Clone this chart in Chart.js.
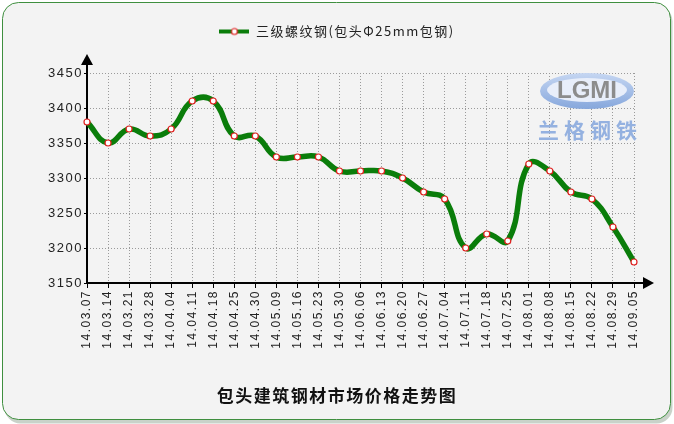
<!DOCTYPE html>
<html>
<head>
<meta charset="utf-8">
<script src="https://cdn.jsdelivr.net/npm/chart.js@4"></script>
<style>
  html, body { margin: 0; padding: 0; background: #fff; }
  canvas { display: block; }
</style>
</head>
<body>
<canvas id="grafico" width="674" height="424"></canvas>
<script>
// dados
const categorias = ['14.03.07', '14.03.14', '14.03.21', '14.03.28', '14.04.04', '14.04.11', '14.04.18',
  '14.04.25', '14.04.30', '14.05.09', '14.05.16', '14.05.23', '14.05.30', '14.06.06', '14.06.13',
  '14.06.20', '14.06.27', '14.07.04', '14.07.11', '14.07.18', '14.07.25', '14.08.01', '14.08.08',
  '14.08.15', '14.08.22', '14.08.29', '14.09.05'];
const precos = [3380, 3350, 3370, 3360, 3370, 3410, 3410, 3360, 3360, 3330, 3330, 3330, 3310, 3310,
  3310, 3300, 3280, 3270, 3200, 3220, 3210, 3320, 3310, 3280, 3270, 3230, 3180];
const yMin = 3150;
const yMax = 3450;
const yPasso = 50;
const nomeSerie = '三级螺纹钢(包头Φ25mm包钢)';
const titulo = '包头建筑钢材市场价格走势图';

const verde = '#0a7d0a';

// ícone da legenda: linha com bolinha no meio
const icone = document.createElement('canvas');
icone.width = 30; icone.height = 12;
(function () {
  const c = icone.getContext('2d');
  c.strokeStyle = verde; c.lineWidth = 4;
  c.beginPath(); c.moveTo(0, 6); c.lineTo(30, 6); c.stroke();
  c.fillStyle = '#fff'; c.strokeStyle = '#e02020'; c.lineWidth = 1.2;
  c.beginPath(); c.arc(15, 6, 3, 0, Math.PI * 2); c.fill(); c.stroke();
})();

// fundo, moldura, eixos com setas e logotipo
const decoracao = {
  id: 'decoracao',
  beforeLayout(chart) { chart.ctx.letterSpacing = '1.5px'; },
  beforeDraw(chart) {
    const ctx = chart.ctx;
    ctx.save();
    ctx.letterSpacing = '0px';
    ctx.fillStyle = '#fff';
    ctx.fillRect(0, 0, chart.width, chart.height);
    ctx.fillStyle = '#c9d2c9';
    ctx.beginPath(); ctx.roundRect(4.5, 5.5, 668, 418, 16); ctx.fill();
    ctx.fillStyle = '#f3f3f3';
    ctx.strokeStyle = '#3f8f3f';
    ctx.lineWidth = 1;
    ctx.beginPath(); ctx.roundRect(2.5, 2.5, 668, 417, 16); ctx.fill(); ctx.stroke();
    ctx.restore();
    ctx.letterSpacing = '1.5px';
  },
  beforeDatasetsDraw(chart) {
    const ctx = chart.ctx;
    const {left, bottom, top, right} = chart.chartArea;
    ctx.save();
    ctx.letterSpacing = '0px';
    // eixos
    ctx.strokeStyle = '#000'; ctx.fillStyle = '#000'; ctx.lineWidth = 2;
    ctx.beginPath();
    ctx.moveTo(left, bottom); ctx.lineTo(left, top - 10);
    ctx.moveTo(left, bottom); ctx.lineTo(right + 10, bottom);
    ctx.stroke();
    ctx.beginPath();
    ctx.moveTo(left, top - 19); ctx.lineTo(left - 6, top - 8); ctx.lineTo(left + 6, top - 8); ctx.closePath(); ctx.fill();
    ctx.beginPath();
    ctx.moveTo(right + 20, bottom); ctx.lineTo(right + 9, bottom - 6); ctx.lineTo(right + 9, bottom + 6); ctx.closePath(); ctx.fill();
    // logotipo
    const cx = 587, cy = 91;
    const grad = ctx.createLinearGradient(0, cy - 18, 0, cy + 18);
    grad.addColorStop(0, '#c5d6f2'); grad.addColorStop(1, '#86a7dc');
    ctx.fillStyle = grad;
    ctx.beginPath(); ctx.ellipse(cx, cy, 47, 18, 0, 0, Math.PI * 2); ctx.fill();
    ctx.fillStyle = '#e8eefa';
    ctx.beginPath(); ctx.ellipse(cx, cy - 1, 40, 12, 0, 0, Math.PI * 2); ctx.fill();
    ctx.font = 'bold 24px "Liberation Sans", Arial, sans-serif';
    ctx.textAlign = 'center'; ctx.textBaseline = 'middle';
    ctx.fillStyle = '#8c8c8c';
    ctx.fillText('LGMI', cx, cy);
    ctx.font = 'bold 21px "Noto Sans CJK SC", sans-serif';
    ctx.letterSpacing = '5px';
    ctx.fillStyle = '#94b1e0';
    ctx.fillText('兰格钢铁', cx + 3, 130);
    ctx.restore();
    ctx.letterSpacing = '1.5px';
  }
};

const ctxGrafico = document.getElementById('grafico').getContext('2d');
new Chart(ctxGrafico, {
  type: 'line',
  data: {
    labels: categorias,
    datasets: [{
      label: nomeSerie,
      data: precos,
      borderColor: verde,
      backgroundColor: verde,
      borderWidth: 5.5,
      tension: 0.45,
      pointRadius: 3,
      pointBackgroundColor: '#fff',
      pointBorderColor: '#e02020',
      pointBorderWidth: 1.2,
      pointStyle: 'circle',
      clip: false
    }]
  },
  options: {
    responsive: false,
    animation: false,
    devicePixelRatio: 1,
    layout: { padding: { top: 15, left: 0, right: 0, bottom: 10 } },
    plugins: {
      legend: {
        position: 'top',
        labels: {
          usePointStyle: true,
          pointStyle: icone,
          pointStyleWidth: 30,
          padding: 10,
          color: '#222',
          font: { family: '"Noto Sans CJK SC", sans-serif', size: 13 },
          generateLabels: (chart) => [{
            text: nomeSerie, pointStyle: icone, fillStyle: verde, strokeStyle: verde,
            lineWidth: 0, fontColor: '#222', datasetIndex: 0
          }]
        }
      },
      subtitle: {
        // espaço entre a legenda e o gráfico
        display: true, text: '', position: 'top', weight: 500,
        font: { size: 1, lineHeight: 1 }, padding: { top: 12, bottom: 12 }
      },
      title: {
        display: true,
        text: titulo,
        position: 'bottom',
        color: '#111',
        font: { family: '"Noto Sans CJK SC", sans-serif', size: 17, weight: 'bold', lineHeight: 1.2 },
        padding: { top: 8, bottom: 8 }
      },
      tooltip: { enabled: false }
    },
    scales: {
      x: {
        offset: false,
        afterFit: (s) => { s.height = 94.6; },
        grid: { color: '#9a9a9a', tickColor: '#000', tickLength: 5, tickBorderDash: [] },
        border: { display: false, dash: [1, 2] },
        ticks: {
          autoSkip: false, maxRotation: 90, minRotation: 90, padding: 2, color: '#222',
          font: { family: '"Liberation Sans", Arial, sans-serif', size: 12 }
        }
      },
      y: {
        min: yMin,
        max: yMax,
        afterFit: (s) => { s.width = 87; },
        grid: { color: '#9a9a9a', tickColor: '#000', tickLength: 3, tickBorderDash: [] },
        border: { display: false, dash: [1, 2] },
        ticks: {
          stepSize: yPasso, padding: 1, color: '#222',
          callback: (v) => String(v),
          font: { family: '"Liberation Sans", Arial, sans-serif', size: 13 }
        }
      },
      yDireita: {
        // só reserva o espaço à direita
        position: 'right',
        afterFit: (s) => { s.width = 40; },
        grid: { display: false },
        border: { display: false },
        ticks: { display: false }
      }
    }
  },
  plugins: [decoracao]
});
</script>
</body>
</html>
